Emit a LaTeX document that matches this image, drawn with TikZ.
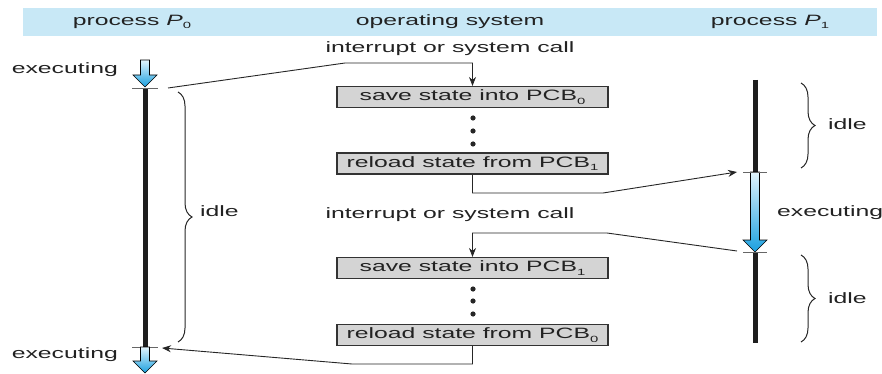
\documentclass[tikz,border=0pt]{standalone}
\usepackage{fontspec}
\setmainfont[FakeStretch=1.65]{Liberation Sans}
\usetikzlibrary{arrows.meta,decorations.pathreplacing,calc}
\definecolor{bandblue}{HTML}{C8E8F6}
\definecolor{arrtop}{HTML}{E2F4FC}
\definecolor{arrbot}{HTML}{1AA0E0}
\definecolor{boxgray}{HTML}{D4D4D4}
\definecolor{axisblack}{HTML}{1E1E1E}
\definecolor{textgray}{HTML}{222222}
\newcommand\lowidx[1]{\raisebox{-0.22em}{\fontsize{9}{9}\selectfont #1}}
\newcommand\bluearrow[3]{% x, top y, tip y
  \shade[top color=arrtop,bottom color=arrbot,draw=black,line width=0.6pt]
    (#1-4.5,#2) -- (#1+4.5,#2) -- (#1+4.5,#3-12) -- (#1+12,#3-12) -- (#1,#3)
    -- (#1-12,#3-12) -- (#1-4.5,#3-12) -- cycle;}
\begin{document}
\begin{tikzpicture}[x=1pt,y=-1pt,
  font=\fontsize{15}{18}\selectfont,
  txt/.style={inner sep=0pt,text=textgray},
  osbox/.style={draw=black!80,line width=1.1pt,fill=boxgray,minimum width=271pt,
    minimum height=21pt,inner sep=0pt,text=textgray},
  conn/.style={draw=black!85,line width=0.9pt},
  connarrow/.style={conn,-{Stealth[length=9pt,width=7pt]}},
  axis/.style={line width=5pt,draw=axisblack},
  tick/.style={line width=0.9pt,draw=black!60},
  idlebrace/.style={draw=black!85,line width=1pt,decorate,decoration={brace,amplitude=14pt}}]
\useasboundingbox (0,0) rectangle (882,374);
% header band
\fill[bandblue] (23,8) rectangle (877,36);
\node[txt] (h0) at (132,22) {process \textit{P}\lowidx{0}};
\node[txt] (hos) at (450,22) {operating system};
\node[txt] (h1) at (770,22) {process \textit{P}\lowidx{1}};
% key points
\coordinate (p0top) at (145,88);
\coordinate (p0bot) at (145,347);
\coordinate (p1top) at (755,80);
\coordinate (p1a) at (755,172);
\coordinate (p1b) at (755,252);
\coordinate (p1bot) at (755,343);
% P0 axis
\bluearrow{145}{60}{87}
\draw[axis] (p0top) -- (p0bot);
\draw[tick] ($(p0top)+(-13,0)$) -- ($(p0top)+(13,0)$);
\draw[tick] ($(p0bot)+(-13,0)$) -- ($(p0bot)+(13,0)$);
\bluearrow{145}{347}{373}
\node[txt,anchor=east] (ex0) at (118,70) {executing};
\node[txt,anchor=east] (ex0b) at (118,355) {executing};
\draw[idlebrace] (178,92) -- (178,342);
\node[txt,anchor=west] (idle0) at (200,211) {idle};
% P1 axis
\draw[axis] (p1top) -- (p1a);
\bluearrow{755}{172}{252}
\draw[axis] (p1b) -- (p1bot);
\draw[tick] ($(p1a)+(-12,0)$) -- ($(p1a)+(12,0)$);
\draw[tick] ($(p1b)+(-12,0)$) -- ($(p1b)+(12,0)$);
\node[txt,anchor=west] (ex1) at (777,213) {executing};
\draw[idlebrace] (801,83) -- (801,168);
\draw[idlebrace] (801,255) -- (801,342);
\node[txt,anchor=west] (idle1) at (828,124) {idle};
\node[txt,anchor=west] (idle2) at (828,298) {idle};
% OS column
\node[txt] (int1) at (450,49) {interrupt or system call};
\node[osbox] (b1) at (472.5,97) {save state into PCB\lowidx{0}};
\node[osbox] (b2) at (472.5,163.5) {reload state from PCB\lowidx{1}};
\node[txt] (int2) at (450,215) {interrupt or system call};
\node[osbox] (b3) at (472.5,268) {save state into PCB\lowidx{1}};
\node[osbox] (b4) at (472.5,335) {reload state from PCB\lowidx{0}};
\foreach \y in {118,131,144,289,301,314} \fill[black!85] (473,\y) circle (2.6pt);
% connectors
\coordinate (c1s) at (168,88);
\coordinate (c1m) at (345,63);
\coordinate (c2m) at (603,193);
\coordinate (c2e) at (737,172);
\coordinate (c3s) at (737,251);
\coordinate (c3m) at (607,233);
\coordinate (c4m) at (352,364);
\coordinate (c4e) at (162,348);
\draw[connarrow] (c1s) -- (c1m) -| (b1.north);
\draw[connarrow] (b2.south) |- (c2m) -- (c2e);
\draw[connarrow] (c3s) -- (c3m) -| (b3.north);
\draw[connarrow] (b4.south) |- (c4m) -- (c4e);
\end{tikzpicture}
\end{document}
